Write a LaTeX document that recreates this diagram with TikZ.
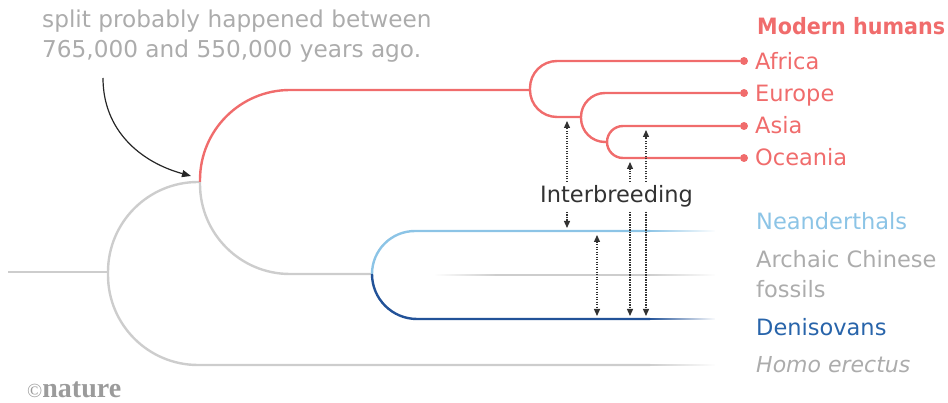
\documentclass[tikz,border=0pt]{standalone}
\usepackage{fontspec}
\setmainfont{DejaVu Sans}
\newfontfamily\mhfont{DejaVu Sans}[FakeStretch=0.92]
\newfontfamily\natfont{Liberation Serif}
\usetikzlibrary{arrows.meta,fadings}
\definecolor{mhred}{RGB}{240,108,108}
\definecolor{nblue}{RGB}{140,196,230}
\definecolor{dblue}{RGB}{34,82,152}
\definecolor{dtext}{RGB}{40,100,170}
\definecolor{gline}{RGB}{205,205,205}
\definecolor{gtext}{RGB}{172,172,172}
\definecolor{itext}{RGB}{50,50,50}
\definecolor{ntext}{RGB}{155,155,155}
\tikzfading[name=fadeout, left color=transparent!0, right color=transparent!100]
\tikzfading[name=fadein, left color=transparent!100, right color=transparent!0]
\tikzset{
  lab/.style={inner sep=0pt, anchor=base west, font=\fontsize{22.5}{27}\selectfont},
  branch/.style={line width=2.4pt},
  tipdot/.style={circle, fill=mhred, inner sep=0pt, minimum size=8pt},
  dotline/.style={line width=1.3pt, dash pattern=on 1.3pt off 1.2pt, color=itext,
     -{Triangle[length=7pt,width=6pt]}},
  dotboth/.style={line width=1.3pt, dash pattern=on 1.3pt off 1.2pt, color=itext,
     {Triangle[length=7pt,width=6pt]}-{Triangle[length=7pt,width=6pt]}},
}
\begin{document}
\begin{tikzpicture}[x=1pt,y=-1pt]
\useasboundingbox (0,0) rectangle (948,403);
% split points
\coordinate (root) at (8,272);
\coordinate (s1) at (108,272);
\coordinate (s2) at (200,182);
\coordinate (s3) at (372,274);
\coordinate (s4) at (530,90);
\coordinate (s5) at (581,117);
\coordinate (s6) at (607,142);
% gray tree
\draw[branch, gline] (root) -- (s1);
\draw[branch, gline, rounded corners=90pt] (s1) |- (s2);
\draw[branch, gline, rounded corners=90pt] (s1) -- (108,365) -- (650,365);
\draw[branch, gline, path fading=fadeout] (650,365) -- (715,365);
\draw[branch, gline, rounded corners=90pt] (s2) |- (s3);
% red tree
\draw[branch, mhred, rounded corners=90pt] (s2) |- (s4);
\node[tipdot] (dafr) at (744,61) {};
\node[tipdot] (deur) at (744,93) {};
\node[tipdot] (dasi) at (744,126) {};
\node[tipdot] (doce) at (744,158) {};
\draw[branch, mhred, rounded corners=27pt] (s4) |- (dafr);
\draw[branch, mhred, rounded corners=27pt] (s4) |- (s5);
\draw[branch, mhred, rounded corners=24pt] (s5) |- (deur);
\draw[branch, mhred, rounded corners=24pt] (s5) |- (s6);
\draw[branch, mhred, rounded corners=16pt] (s6) |- (dasi);
\draw[branch, mhred, rounded corners=16pt] (s6) |- (doce);
% archaic
\draw[branch, nblue, rounded corners=43pt] (s3) -- (372,231) -- (650,231);
\draw[branch, nblue, path fading=fadeout] (650,231) -- (715,231);
\draw[branch, dblue, rounded corners=45pt] (s3) -- (372,319) -- (650,319);
\draw[branch, dblue, path fading=fadeout] (650,319) -- (715,319);
\draw[branch, gline, path fading=fadein] (435,275) -- (495,275);
\draw[branch, gline] (495,275) -- (650,275);
\draw[branch, gline, path fading=fadeout] (650,275) -- (715,275);
% labels
\node[lab, text=mhred, font=\mhfont\fontsize{22.5}{27}\selectfont\bfseries] (mh) at (757,35) {Modern humans};
\node[lab, text=mhred] (lafr) at (755,70) {Africa};
\node[lab, text=mhred] (leur) at (755,102) {Europe};
\node[lab, text=mhred] (lasi) at (755,134) {Asia};
\node[lab, text=mhred] (loce) at (755,166) {Oceania};
\node[lab, text=nblue] (lnea) at (756,230) {Neanderthals};
\node[lab, text=gtext] (larc) at (756,268) {Archaic Chinese};
\node[lab, text=gtext] (lfos) at (756,298) {fossils};
\node[lab, text=dtext] (lden) at (756,336) {Denisovans};
\node[lab, text=gtext, font=\fontsize{22}{27}\selectfont\itshape] (lhom) at (756,372) {Homo erectus};
\node[lab, text=gtext, font=\fontsize{23.2}{27}\selectfont] (ann1) at (42,28) {split probably happened between};
\node[lab, text=gtext, font=\fontsize{23.2}{27}\selectfont] (ann2) at (42,58) {765,000 and 550,000 years ago.};
\node[lab, text=itext] (inter) at (540,203) {Interbreeding};
\node[inner sep=0pt, anchor=base west, text=ntext, font=\natfont\fontsize{28}{30}\selectfont] (nat) at (27,397) {{\fontsize{20}{20}\selectfont\textcopyright}\textbf{nature}};
% annotation arrow
\coordinate (a0) at (103,78);
\coordinate (a1) at (191,176);
\draw[line width=1.2pt, black!85, -{Triangle[length=9pt,width=7pt]}] (a0) .. controls (103,130) and (140,162) .. (a1);
% interbreeding arrows
\coordinate (i1t) at (567,121);
\coordinate (i1a) at (567,182);
\coordinate (i1b) at (567,212);
\coordinate (i1d) at (567,228);
\draw[dotline] (i1a) -- (i1t);
\draw[dotline] (i1b) -- (i1d);
\coordinate (i2t) at (597,235);
\coordinate (i2d) at (597,316);
\draw[dotboth] (i2t) -- (i2d);
\coordinate (i3t) at (630,162);
\coordinate (i3a) at (630,182);
\coordinate (i3b) at (630,212);
\coordinate (i3d) at (630,316);
\draw[dotline] (i3a) -- (i3t);
\draw[dotline] (i3b) -- (i3d);
\coordinate (i4t) at (646,130);
\coordinate (i4a) at (646,182);
\coordinate (i4b) at (646,212);
\coordinate (i4d) at (646,316);
\draw[dotline] (i4a) -- (i4t);
\draw[dotline] (i4b) -- (i4d);
\end{tikzpicture}
\end{document}
